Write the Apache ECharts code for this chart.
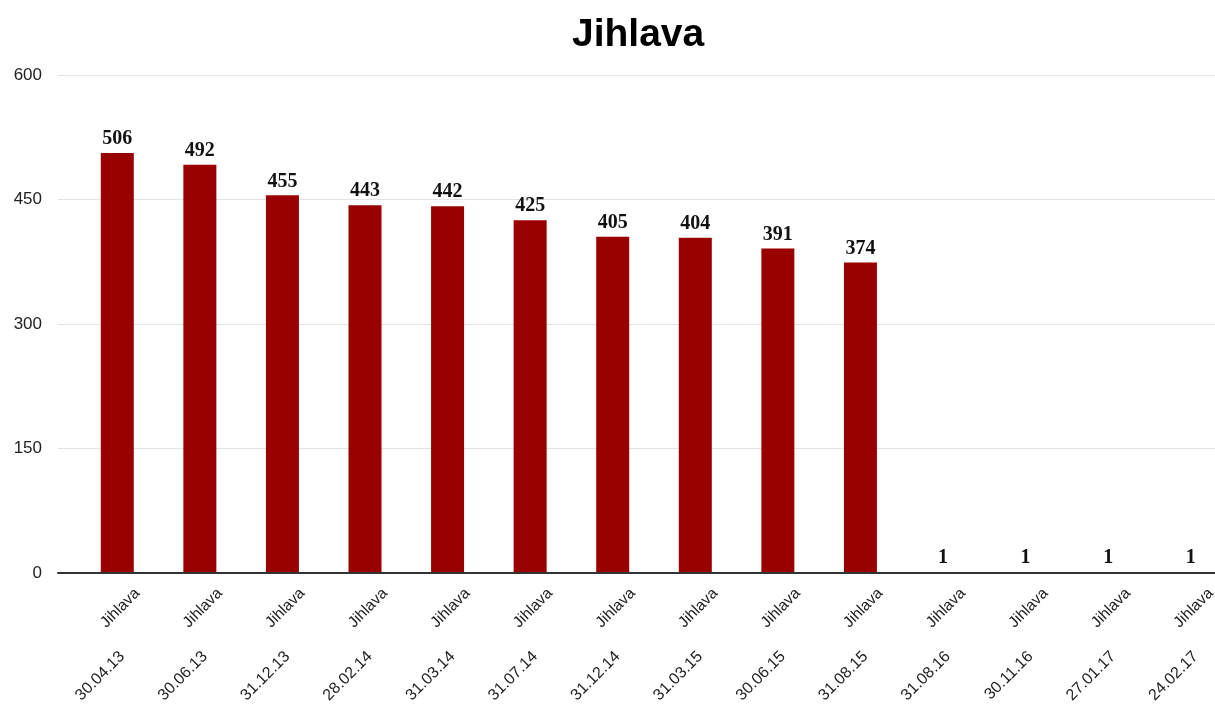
<!DOCTYPE html>
<html>
<head>
<meta charset="utf-8">
<script src="https://cdn.jsdelivr.net/npm/echarts@6/dist/echarts.min.js"></script>
<style>
  html, body { margin: 0; padding: 0; background: #fff; }
  #chart { width: 1215px; height: 706px; }
</style>
</head>
<body>
<div id="chart"></div>
<script>
const places = ["Jihlava", "Jihlava", "Jihlava", "Jihlava", "Jihlava", "Jihlava", "Jihlava",
  "Jihlava", "Jihlava", "Jihlava", "Jihlava", "Jihlava", "Jihlava", "Jihlava"];
const dates = ["30.04.13", "30.06.13", "31.12.13", "28.02.14", "31.03.14", "31.07.14", "31.12.14",
  "31.03.15", "30.06.15", "31.08.15", "31.08.16", "30.11.16", "27.01.17", "24.02.17"];
const counts = [506, 492, 455, 443, 442, 425, 405, 404, 391, 374, 1, 1, 1, 1];
const yTicks = [0, 150, 300, 450, 600];

const chart = echarts.init(document.getElementById("chart"));

const gridTop = 75, gridBottom = 133, bandWidth = 1156;
const hiddenY = (gridIndex) => ({
  type: "value", gridIndex, min: yTicks[0], max: yTicks[yTicks.length - 1],
  interval: 150, show: false
});
// bands run past the right edge of the picture, so don't let echarts pull them back in
const band = (left) => ({ left, width: bandWidth, top: gridTop, bottom: gridBottom, outerBoundsMode: "none" });

const option = {
  animation: false,
  title: {
    text: "Jihlava",
    left: 567,
    top: 11,
    textStyle: { fontFamily: "Liberation Sans", fontSize: 39, fontWeight: "bold", color: "#000" }
  },
  grid: [
    { left: 58, right: 0, top: gridTop, bottom: gridBottom, outerBoundsMode: "none" }, // gridlines, y labels, axis line
    band(76),   // bars
    band(96),   // "Jihlava" labels
    band(81)    // date labels
  ],
  xAxis: [
    {
      type: "category", gridIndex: 0, data: [""], z: 5,
      axisLine: { show: true, lineStyle: { color: "#333", width: 2 } },
      axisTick: { show: false }, axisLabel: { show: false }
    },
    {
      type: "category", gridIndex: 1, data: dates,
      axisLine: { show: false }, axisTick: { show: false }, axisLabel: { show: false }
    },
    {
      type: "category", gridIndex: 2, data: places,
      axisLine: { show: false }, axisTick: { show: false },
      axisLabel: { rotate: 45, margin: 18, interval: 0, fontFamily: "Liberation Sans", fontSize: 15.5, color: "#222" }
    },
    {
      type: "category", gridIndex: 3, data: dates,
      axisLine: { show: false }, axisTick: { show: false },
      axisLabel: { rotate: 45, margin: 81, interval: 0, fontFamily: "Liberation Sans", fontSize: 16, color: "#222" }
    }
  ],
  yAxis: [
    {
      type: "value", gridIndex: 0, min: yTicks[0], max: yTicks[yTicks.length - 1], interval: 150,
      axisLine: { show: false }, axisTick: { show: false },
      axisLabel: { margin: 16, fontFamily: "Liberation Sans", fontSize: 17, color: "#222" },
      splitLine: { lineStyle: { color: "#e3e3e3", width: 1 } }
    },
    hiddenY(1), hiddenY(2), hiddenY(3)
  ],
  series: [
    {
      type: "bar",
      xAxisIndex: 1,
      yAxisIndex: 1,
      data: counts,
      barWidth: 33,
      itemStyle: { color: "#990000" },
      label: {
        show: true,
        position: "top",
        distance: 4,
        fontFamily: "Liberation Serif",
        fontWeight: "bold",
        fontSize: 20,
        color: "#111"
      }
    }
  ]
};

chart.setOption(option);
</script>
</body>
</html>
